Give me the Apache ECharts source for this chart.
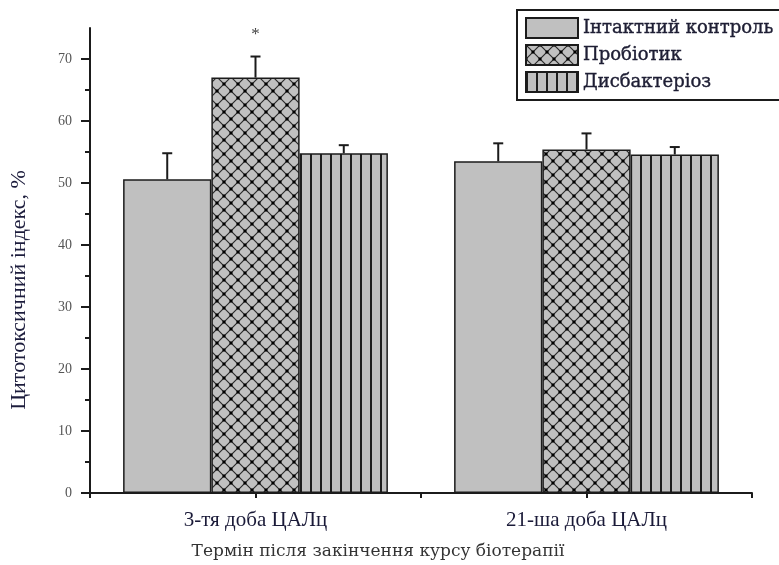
<!DOCTYPE html>
<html>
<head>
<meta charset="utf-8">
<script src="https://cdn.jsdelivr.net/npm/echarts@6/dist/echarts.min.js"></script>
<style>
  html, body { margin: 0; padding: 0; background: #fff; }
  #chart { width: 779px; height: 565px; }
</style>
</head>
<body>
<div id="chart"></div>
<script>
// Periods after the end of the biotherapy course
const categories = ['3-тя доба ЦАЛц', '21-ша доба ЦАЛц'];
const seriesNames = ['Інтактний контроль', 'Пробіотик', 'Дисбактеріоз'];

// Cytotoxic index, % (mean) for each group
const controlValues = [50.6, 53.5];
const probioticValues = [67.0, 55.4];
const dysbiosisValues = [54.8, 54.6];

// Upper error (SD) for each group
const controlErrors = [4.2, 2.9];
const probioticErrors = [3.4, 2.6];
const dysbiosisErrors = [1.3, 1.2];

// Significance marks above the probiotic bars
const probioticMarks = ['*', ''];

// Y axis ticks
const yMajorTicks = [0, 10, 20, 30, 40, 50, 60, 70];
const yMinorTicks = [5, 15, 25, 35, 45, 55, 65];
const yMax = 75;

const yTitle = 'Цитотоксичний індекс, %';
const xTitle = 'Термін після закінчення курсу біотерапії';

const GREY = '#c0c0c0';
const INK = '#1b1b1b';

// Cross-hatched (diamond lattice) fill
function crossPattern() {
  const p = 14;
  const c = document.createElement('canvas');
  c.width = p; c.height = p;
  const g = c.getContext('2d');
  g.fillStyle = GREY; g.fillRect(0, 0, p, p);
  g.strokeStyle = '#2a2a2a'; g.lineWidth = 1.2;
  g.beginPath();
  g.moveTo(0, 0); g.lineTo(p, p);
  g.moveTo(p, 0); g.lineTo(0, p);
  g.stroke();
  g.fillStyle = '#000';
  const d = 3;
  [[0, 0], [p, 0], [0, p], [p, p], [p / 2, p / 2]].forEach(function (pt) {
    g.fillRect(pt[0] - d / 2, pt[1] - d / 2, d, d);
  });
  return c;
}

// Vertical stripe fill
function stripePattern() {
  const w = 10;
  const c = document.createElement('canvas');
  c.width = w; c.height = 10;
  const g = c.getContext('2d');
  g.fillStyle = GREY; g.fillRect(0, 0, w, 10);
  g.fillStyle = '#1e1e1e';
  g.fillRect(0, 0, 2, 10);
  return c;
}

const fills = [
  GREY,
  { image: crossPattern(), repeat: 'repeat' },
  { image: stripePattern(), repeat: 'repeat' }
];

const valueSets = [controlValues, probioticValues, dysbiosisValues];
const errorSets = [controlErrors, probioticErrors, dysbiosisErrors];
const markSets = [null, probioticMarks, null];

const CAT_GAP = 0.2;

const barSeries = seriesNames.map(function (name, k) {
  return {
    name: name,
    type: 'bar',
    xAxisIndex: 0,
    yAxisIndex: 0,
    data: valueSets[k],
    barGap: '0%',
    barCategoryGap: (CAT_GAP * 100) + '%',
    itemStyle: { color: fills[k], borderColor: INK, borderWidth: 1.5 },
    emphasis: { disabled: true },
    z: 2
  };
});

// Upper error whiskers with caps, placed over the matching bar
const errorSeries = seriesNames.map(function (name, k) {
  return {
    type: 'custom',
    xAxisIndex: 0,
    yAxisIndex: 0,
    z: 5,
    silent: true,
    data: valueSets[k].map(function (v, i) { return [i, v, errorSets[k][i]]; }),
    renderItem: function (params, api) {
      const i = api.value(0), v = api.value(1), e = api.value(2);
      const band = api.size([1, 0])[0];
      const bw = band * (1 - CAT_GAP) / 3;
      const base = api.coord([i, v]);
      const top = api.coord([i, v + e]);
      const x = base[0] + (k - 1) * bw;
      const cap = 5;
      const children = [
        { type: 'line', shape: { x1: x, y1: base[1], x2: x, y2: top[1] },
          style: { stroke: INK, lineWidth: 2 } },
        { type: 'line', shape: { x1: x - cap, y1: top[1], x2: x + cap, y2: top[1] },
          style: { stroke: INK, lineWidth: 2 } }
      ];
      const marks = markSets[k];
      if (marks && marks[i]) {
        children.push({
          type: 'text',
          style: { x: x, y: top[1] - 22, text: marks[i], align: 'center', verticalAlign: 'middle',
                   font: '17px "Liberation Serif"', fill: '#444' }
        });
      }
      return { type: 'group', children: children };
    }
  };
});

const chart = echarts.init(document.getElementById('chart'), null, { renderer: 'canvas' });

chart.setOption({
  animation: false,
  backgroundColor: '#fff',
  grid: { left: 90, right: 27, top: 28, bottom: 72 },
  legend: {
    data: seriesNames,
    orient: 'vertical',
    left: 517,
    top: 10,
    padding: [7, 30, 7, 8],
    icon: 'rect',
    itemWidth: 52,
    itemHeight: 20,
    itemGap: 5,
    borderColor: INK,
    borderWidth: 2,
    backgroundColor: '#fff',
    selectedMode: false,
    textStyle: { fontFamily: 'DejaVu Serif', fontSize: 18, color: '#1e1e34',
                 textBorderColor: '#1e1e34', textBorderWidth: 0.4, padding: [0, 0, 0, 0] }
  },
  graphic: [
    {
      type: 'text',
      x: 19,
      y: 290,
      rotation: Math.PI / 2,
      style: { text: yTitle, x: 0, y: 0, align: 'center', verticalAlign: 'middle',
               font: '22px "Liberation Serif"', fill: '#1c1c3c' }
    },
    {
      type: 'text',
      x: 378,
      y: 552,
      style: { text: xTitle, x: 0, y: 0, align: 'center', verticalAlign: 'middle',
               font: '17px "DejaVu Serif"', fill: '#333' }
    }
  ],
  xAxis: [
    {
      type: 'category',
      data: categories,
      axisLine: { lineStyle: { color: INK, width: 2 } },
      axisTick: { show: true, length: 5, lineStyle: { color: INK, width: 2 } },
      axisLabel: { margin: 17, fontFamily: 'Liberation Serif', fontSize: 21, color: '#1a1a38' }
    },
    {
      type: 'category',
      data: categories,
      position: 'bottom',
      axisLine: { show: false },
      axisTick: { show: true, alignWithLabel: true, length: 5, lineStyle: { color: INK, width: 2 } },
      axisLabel: { show: false }
    }
  ],
  yAxis: [
    {
      type: 'value',
      min: 0,
      max: yMax,
      axisLine: { show: true, lineStyle: { color: INK, width: 2 } },
      axisTick: { show: true, length: 9, customValues: yMajorTicks, lineStyle: { color: INK, width: 2 } },
      axisLabel: { margin: 18, customValues: yMajorTicks, fontFamily: 'Liberation Serif', fontSize: 14, color: '#555' },
      splitLine: { show: false }
    },
    {
      type: 'value',
      min: 0,
      max: yMax,
      position: 'left',
      axisLine: { show: false },
      axisTick: { show: true, length: 5, customValues: yMinorTicks, lineStyle: { color: INK, width: 2 } },
      axisLabel: { show: false },
      splitLine: { show: false }
    }
  ],
  series: barSeries.concat(errorSeries)
});
</script>
</body>
</html>
